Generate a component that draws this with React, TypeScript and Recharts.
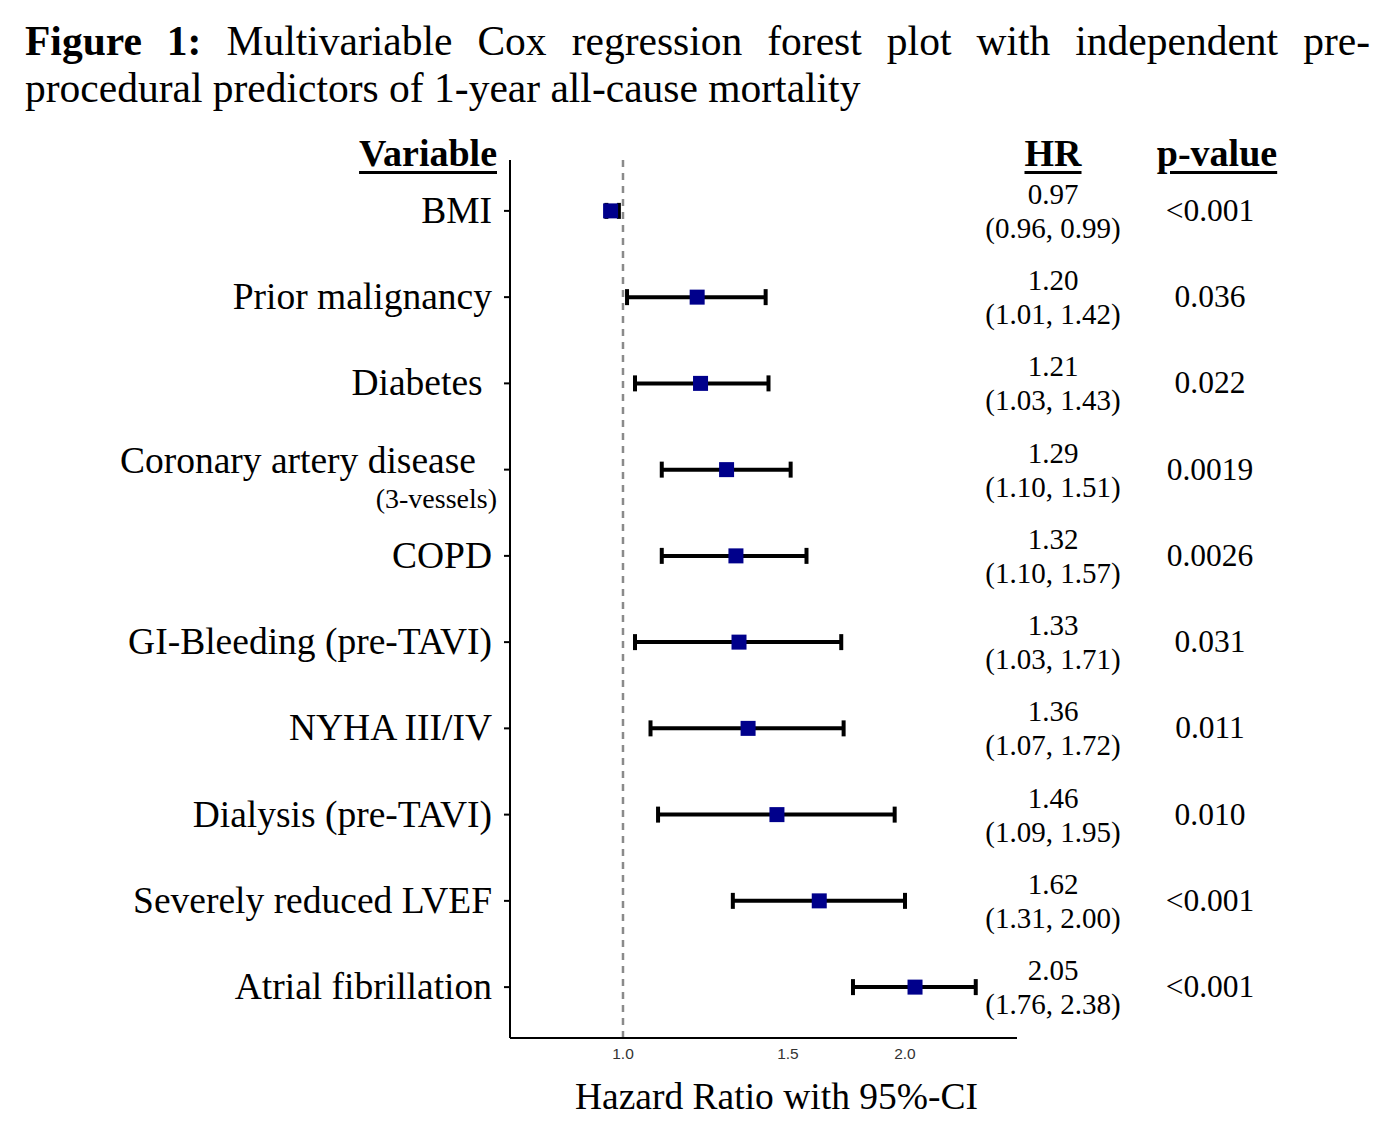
import React from 'react';
import { ComposedChart, Scatter, XAxis, YAxis, ErrorBar, ReferenceLine, Label } from 'recharts';

const variables = [
  'BMI',
  'Prior malignancy',
  'Diabetes\u00A0',
  'Coronary artery disease',
  'COPD',
  'GI-Bleeding (pre-TAVI)',
  'NYHA III/IV',
  'Dialysis (pre-TAVI)',
  'Severely reduced LVEF',
  'Atrial fibrillation',
];
const subLabels = ['', '', '', '(3-vessels)', '', '', '', '', '', ''];
const hazardRatios = [0.97, 1.2, 1.21, 1.29, 1.32, 1.33, 1.36, 1.46, 1.62, 2.05];
const lowerCI = [0.96, 1.01, 1.03, 1.1, 1.1, 1.03, 1.07, 1.09, 1.31, 1.76];
const upperCI = [0.99, 1.42, 1.43, 1.51, 1.57, 1.71, 1.72, 1.95, 2.0, 2.38];
const pValues = ['<0.001', '0.036', '0.022', '0.0019', '0.0026', '0.031', '0.011', '0.010', '<0.001', '<0.001'];
const xTicks = [1.0, 1.5, 2.0];
const xDomain = [0.7575, 2.634];

const data = variables.map((v, i) => ({
  row: i,
  variable: v,
  sub: subLabels[i],
  hr: hazardRatios[i],
  lo: lowerCI[i],
  hi: upperCI[i],
  err: [hazardRatios[i] - lowerCI[i], upperCI[i] - hazardRatios[i]],
  p: pValues[i],
}));
const rowTicks = data.map((d) => d.row);

const SERIF = '"Liberation Serif", "Times New Roman", serif';
const SANS = '"Liberation Sans", Arial, sans-serif';

const LeftTick = (props: any) => {
  const { x, y, payload } = props;
  const d = data[Math.round(payload.value)];
  if (!d) return null;
  if (d.sub) {
    return (
      <g>
        <text x={x - 16} y={y + 3} textAnchor="end" fontFamily={SERIF} fontSize={37.5} fill="#000">
          {d.variable}
        </text>
        <text x={x + 5} y={y + 38} textAnchor="end" fontFamily={SERIF} fontSize={28} fill="#000">
          {d.sub}
        </text>
      </g>
    );
  }
  return (
    <text x={x} y={y + 12} textAnchor="end" fontFamily={SERIF} fontSize={37.5} fill="#000">
      {d.variable}
    </text>
  );
};

const RightTick = (props: any) => {
  const { x, y, payload } = props;
  const d = data[Math.round(payload.value)];
  if (!d) return null;
  return (
    <g>
      <text x={x + 36} y={y - 7} textAnchor="middle" fontFamily={SERIF} fontSize={29} fill="#000">
        {d.hr.toFixed(2)}
      </text>
      <text x={x + 36} y={y + 27} textAnchor="middle" fontFamily={SERIF} fontSize={29} fill="#000">
        {`(${d.lo.toFixed(2)}, ${d.hi.toFixed(2)})`}
      </text>
      <text x={x + 193} y={y + 10} textAnchor="middle" fontFamily={SERIF} fontSize={31.5} fill="#000">
        {d.p}
      </text>
    </g>
  );
};

const XTick = (props: any) => {
  const { x, y, payload } = props;
  return (
    <text x={x} y={y + 21} textAnchor="middle" fontFamily={SANS} fontSize={15.5} fill="#333">
      {Number(payload.value).toFixed(1)}
    </text>
  );
};

const SquarePoint = (props: any) => {
  const { cx, cy } = props;
  const s = 15;
  return <rect x={cx - s / 2} y={cy - s / 2} width={s} height={s} fill="#00008B" />;
};

const AxisTitle = (props: any) => {
  const { viewBox } = props;
  const cx = viewBox.x + viewBox.width / 2 + 13;
  return (
    <text x={cx} y={viewBox.y + 71} textAnchor="middle" fontFamily={SERIF} fontSize={37.5} fill="#000">
      Hazard Ratio with 95%-CI
    </text>
  );
};

const headerStyle: React.CSSProperties = {
  position: 'absolute',
  top: 134,
  fontFamily: SERIF,
  fontWeight: 'bold',
  fontSize: 38,
  lineHeight: '38px',
  textDecoration: 'underline',
  textDecorationThickness: '3px',
  textUnderlineOffset: '5px',
  color: '#000',
  whiteSpace: 'nowrap',
};

export default function App() {
  return (
    <div style={{ position: 'absolute', left: 0, top: 0, width: 1400, height: 1143, background: '#fff', overflow: 'hidden' }}>
      <ComposedChart
        width={1400}
        height={1143}
        data={data}
        margin={{ top: 160, right: 0, bottom: 0, left: 0 }}
        style={{ position: 'absolute', left: 0, top: 0 }}
      >
        <XAxis
          dataKey="hr"
          type="number"
          scale="log"
          domain={xDomain}
          allowDataOverflow
          ticks={xTicks}
          height={105}
          tickLine={false}
          tickSize={0}
          tickMargin={0}
          axisLine={{ stroke: '#000', strokeWidth: 2 }}
          tick={<XTick />}
        >
          <Label content={<AxisTitle />} />
        </XAxis>
        <YAxis
          yAxisId="left"
          dataKey="row"
          type="number"
          domain={[-0.59, 9.59]}
          reversed
          allowDataOverflow
          ticks={rowTicks}
          interval={0}
          width={510}
          tickSize={6}
          tickMargin={12}
          axisLine={{ stroke: '#000', strokeWidth: 2 }}
          tickLine={{ stroke: '#000', strokeWidth: 2 }}
          tick={<LeftTick />}
        />
        <YAxis
          yAxisId="right"
          orientation="right"
          dataKey="row"
          type="number"
          domain={[-0.59, 9.59]}
          reversed
          allowDataOverflow
          ticks={rowTicks}
          interval={0}
          width={383}
          tickSize={0}
          tickMargin={0}
          axisLine={false}
          tickLine={false}
          tick={<RightTick />}
        />
        <ReferenceLine
          yAxisId="left"
          x={1}
          stroke="#8a8a8a"
          strokeWidth={2.5}
          strokeDasharray="7 6"
          style={{ strokeWidth: 2.5 }}
        />
        <Scatter yAxisId="left" data={data} dataKey="hr" shape={<SquarePoint />} isAnimationActive={false}>
          <ErrorBar
            dataKey="err"
            direction="x"
            width={8}
            strokeWidth={4}
            stroke="#000"
            style={{ strokeWidth: 4 }}
            isAnimationActive={false}
          />
        </Scatter>
      </ComposedChart>

      <div
        style={{
          position: 'absolute',
          left: 25,
          top: 18,
          width: 1345,
          fontFamily: SERIF,
          fontSize: 41.5,
          lineHeight: '47px',
          color: '#000',
        }}
      >
        <div style={{ textAlign: 'justify', textAlignLast: 'justify' }}>
          <b>Figure 1:</b> Multivariable Cox regression forest plot with independent pre-
        </div>
        <div>procedural predictors of 1-year all-cause mortality</div>
      </div>

      <div style={{ ...headerStyle, right: 1400 - 497 }}>Variable</div>
      <div style={{ ...headerStyle, left: 953, width: 200, textAlign: 'center' }}>HR</div>
      <div style={{ ...headerStyle, left: 1117, width: 200, textAlign: 'center' }}>p-value</div>
    </div>
  );
}
